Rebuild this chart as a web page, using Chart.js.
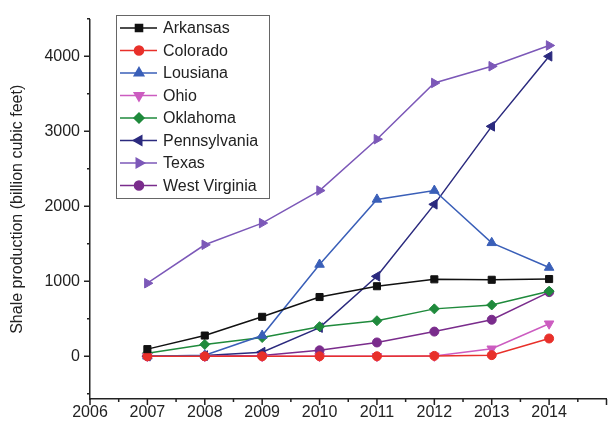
<!DOCTYPE html>
<html>
<head>
<meta charset="utf-8">
<script src="https://cdn.jsdelivr.net/npm/chart.js@4/dist/chart.umd.min.js"></script>
<style>
  html, body { margin: 0; padding: 0; background: #fff; }
  #wrap { width: 613px; height: 423px; }
</style>
</head>
<body>
<div id="wrap"><canvas id="chart"></canvas></div>
<script>
// data (billion cubic feet)
const years = [2007, 2008, 2009, 2010, 2011, 2012, 2013, 2014];
const arkansas = [95, 276, 526, 790, 934, 1026, 1020, 1030];
const colorado = [0, 0, 0, 0, 0, 5, 15, 237];
const lousiana = [0, 15, 276, 1224, 2092, 2210, 1513, 1184];
const ohio = [0, 0, 0, 0, 0, 5, 100, 434];
const oklahoma = [40, 158, 250, 395, 474, 632, 684, 868];
const pennsylvania = [0, 10, 55, 382, 1066, 2026, 3066, 4000];
const texas = [974, 1487, 1776, 2210, 2895, 3645, 3868, 4145];
const westVirginia = [0, 0, 10, 79, 184, 329, 487, 855];

const xLabels = [2006, 2007, 2008, 2009, 2010, 2011, 2012, 2013, 2014];
const yLabels = [0, 1000, 2000, 3000, 4000];
const yTickValues = [-500, 0, 500, 1000, 1500, 2000, 2500, 3000, 3500, 4000, 4500];
const xTickValues = [2006, 2006.5, 2007, 2007.5, 2008, 2008.5, 2009, 2009.5, 2010, 2010.5,
	2011, 2011.5, 2012, 2012.5, 2013, 2013.5, 2014, 2014.5, 2015];

const FONT = "'Liberation Sans', Arial, sans-serif";
const INK = '#222';

function series(label, values, color, style, rotation, radius) {
	return {
		label: label,
		data: years.map((y, i) => ({ x: y, y: values[i] })),
		borderColor: color,
		backgroundColor: color,
		borderWidth: 1.5,
		pointStyle: style,
		pointRotation: rotation || 0,
		pointRadius: radius || 5,
		pointBorderWidth: 1,
		tension: 0
	};
}

const datasets = [
	series('Arkansas', arkansas, '#111111', 'rect', 0, 5),
	series('Colorado', colorado, '#e8302a', 'circle', 0, 4.5),
	series('Lousiana', lousiana, '#3a5fb8', 'triangle', 0, 5.5),
	series('Ohio', ohio, '#cc5cc0', 'triangle', 180, 5.5),
	series('Oklahoma', oklahoma, '#1f8a3c', 'rectRot', 0, 5),
	series('Pennsylvania', pennsylvania, '#2b2a7e', 'triangle', -90, 5.5),
	series('Texas', texas, '#7c58b8', 'triangle', 90, 5.5),
	series('West Virginia', westVirginia, '#7a2c8c', 'circle', 0, 4.5)
];

// outward ticks, short ones for the half steps
const axisTicks = {
	id: 'axisTicks',
	afterDraw(chart) {
		const ctx = chart.ctx;
		const xs = chart.scales.x, ys = chart.scales.y;
		ctx.save();
		ctx.strokeStyle = INK;
		ctx.lineWidth = 1.5;
		ctx.beginPath();
		xTickValues.forEach(v => {
			const px = xs.getPixelForValue(v);
			const len = v % 1 === 0 ? 6 : 3;
			ctx.moveTo(px, ys.bottom);
			ctx.lineTo(px, ys.bottom + len);
		});
		yTickValues.forEach(v => {
			const py = ys.getPixelForValue(v);
			const len = v % 1000 === 0 ? 6 : 3;
			ctx.moveTo(xs.left, py);
			ctx.lineTo(xs.left - len, py);
		});
		ctx.stroke();
		ctx.restore();
	}
};

// boxed legend inside the plot, top left
const boxLegend = {
	id: 'boxLegend',
	afterDraw(chart) {
		const ctx = chart.ctx;
		const left = 116, top = 15, width = 153, height = 183;
		ctx.save();
		ctx.fillStyle = '#fff';
		ctx.fillRect(left, top, width, height);
		ctx.strokeStyle = '#666';
		ctx.lineWidth = 1;
		ctx.strokeRect(left + 0.5, top + 0.5, width, height);
		ctx.font = '16px ' + FONT;
		ctx.textBaseline = 'middle';
		chart.data.datasets.forEach((ds, i) => {
			const cy = top + 13 + i * 22.5;
			ctx.strokeStyle = ds.borderColor;
			ctx.lineWidth = 1.5;
			ctx.beginPath();
			ctx.moveTo(left + 4, cy);
			ctx.lineTo(left + 41, cy);
			ctx.stroke();
			ctx.fillStyle = ds.backgroundColor;
			Chart.helpers.drawPoint(ctx, {
				pointStyle: ds.pointStyle,
				rotation: ds.pointRotation,
				radius: ds.pointRadius,
				borderWidth: 1
			}, left + 23, cy);
			ctx.fillStyle = INK;
			ctx.fillText(ds.label, left + 47, cy + 1);
		});
		ctx.restore();
	}
};

new Chart(document.getElementById('chart'), {
	type: 'line',
	data: { datasets: datasets },
	options: {
		responsive: true,
		maintainAspectRatio: false,
		animation: false,
		layout: { padding: { top: 15, right: 1, left: 0, bottom: 0 } },
		plugins: {
			legend: { display: false },
			tooltip: { enabled: false }
		},
		scales: {
			x: {
				type: 'linear',
				min: 2006,
				max: 2015,
				afterFit: s => { s.height = 24; },
				afterBuildTicks: s => { s.ticks = xLabels.map(v => ({ value: v })); },
				grid: { display: false, drawTicks: false },
				border: { display: true, color: INK, width: 1.5 },
				ticks: {
					color: INK,
					font: { family: FONT, size: 16 },
					padding: 4,
					maxRotation: 0,
					autoSkip: false,
					callback: v => String(v)
				}
			},
			y: {
				type: 'linear',
				min: -570,
				max: 4490,
				afterFit: s => { s.width = 90; },
				afterBuildTicks: s => { s.ticks = yLabels.map(v => ({ value: v })); },
				grid: { display: false, drawTicks: false },
				border: { display: true, color: INK, width: 1.5 },
				ticks: {
					color: INK,
					font: { family: FONT, size: 16 },
					padding: 10,
					autoSkip: false,
					callback: v => String(v)
				},
				title: {
					display: true,
					text: 'Shale production (billion cubic feet)',
					color: INK,
					font: { family: FONT, size: 16 },
					padding: { top: 8, bottom: 0 }
				}
			}
		}
	},
	plugins: [axisTicks, boxLegend]
});
</script>
</body>
</html>
